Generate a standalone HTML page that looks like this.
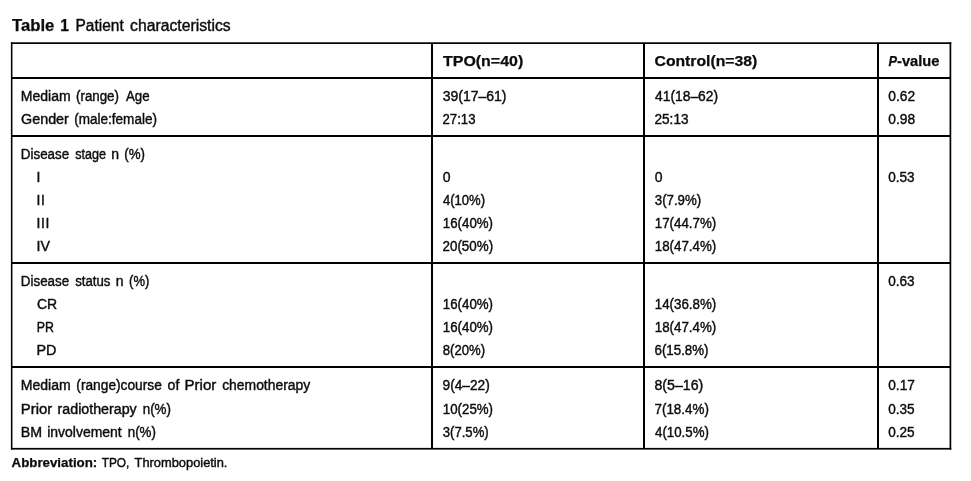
<!DOCTYPE html>
<html lang="en"><head><meta charset="utf-8"><title>Table 1 Patient characteristics</title>
<style>
html,body{margin:0;padding:0;background:#fff;}
body{width:971px;height:481px;position:relative;overflow:hidden;font-family:"Liberation Sans",sans-serif;color:#0c0c10;-webkit-text-stroke:0.4px #0c0c10;}
.t{position:absolute;left:0;white-space:nowrap;line-height:20px;transform-origin:0 50%;display:block;}
svg{position:absolute;left:0;top:0;}
</style></head><body>
<svg width="971" height="481" viewBox="0 0 971 481">
<g fill="#000">
<rect x="10.9" y="42.3" width="940.35" height="1.7"/>
<rect x="10.9" y="447.9" width="940.35" height="1.7"/>
<rect x="10.9" y="42.3" width="1.55" height="407.3"/>
<rect x="949.55" y="42.3" width="1.7" height="407.3"/>
<rect x="431" y="43" width="2" height="406"/>
<rect x="643" y="43" width="2" height="406"/>
<rect x="877" y="43" width="2" height="406"/>
<rect x="11" y="77" width="940" height="2"/>
<rect x="11" y="135" width="940" height="2"/>
<rect x="11" y="262" width="940" height="2"/>
<rect x="11" y="366" width="940" height="2"/>
</g></svg>

<div class="r">
<span class="t" id="t1_0" style="top:16px;font-size:15.6px;font-weight:bold;-webkit-text-stroke-width:0.25px;transform:translateX(12.00px) scaleX(1.0715);">Table</span>
<span class="t" id="t1_1" style="top:16px;font-size:15.6px;font-weight:bold;-webkit-text-stroke-width:0.25px;transform:translateX(60.35px) scaleX(1.0000);">1</span>
<span class="t" id="t2_0" style="top:16px;font-size:15.6px;transform:translateX(75.55px) scaleX(0.9917);">Patient</span>
<span class="t" id="t2_1" style="top:16px;font-size:15.6px;transform:translateX(130.05px) scaleX(1.0092);">characteristics</span>
</div>
<div class="r">
<span class="t" id="h2" style="top:51px;font-size:15px;font-weight:bold;-webkit-text-stroke-width:0.25px;transform:translateX(443.00px) scaleX(1.0635);">TPO(n=40)</span>
<span class="t" id="h3" style="top:51px;font-size:15px;font-weight:bold;-webkit-text-stroke-width:0.25px;transform:translateX(654.50px) scaleX(1.0502);">Control(n=38)</span>
<span class="t" id="h4a" style="top:51px;font-size:15px;font-weight:bold;-webkit-text-stroke-width:0.25px;font-style:italic;transform:translateX(888.50px) scaleX(0.8500);">P</span><span class="t" id="h4b" style="top:51px;font-size:15px;font-weight:bold;-webkit-text-stroke-width:0.25px;transform:translateX(897.00px) scaleX(0.9765);">-value</span>
</div>
<div class="r">
<span class="t" id="a1_0" style="top:86px;font-size:14px;transform:translateX(20.80px) scaleX(1.0022);">Mediam</span>
<span class="t" id="a1_1" style="top:86px;font-size:14px;transform:translateX(76.05px) scaleX(0.9498);">(range)</span>
<span class="t" id="a1_2" style="top:86px;font-size:14px;transform:translateX(125.90px) scaleX(0.9491);">Age</span>
<span class="t" id="a2" style="top:86px;font-size:14px;transform:translateX(442.75px) scaleX(0.9976);">39(17–61)</span>
<span class="t" id="a3" style="top:86px;font-size:14px;transform:translateX(655.00px) scaleX(0.9882);">41(18–62)</span>
<span class="t" id="a4" style="top:86px;font-size:14px;transform:translateX(888.25px) scaleX(0.9849);">0.62</span>
</div>
<div class="r">
<span class="t" id="b1_0" style="top:109px;font-size:14px;transform:translateX(21.05px) scaleX(1.0239);">Gender</span>
<span class="t" id="b1_1" style="top:109px;font-size:14px;transform:translateX(74.25px) scaleX(0.9662);">(male:female)</span>
<span class="t" id="b2" style="top:109px;font-size:14px;transform:translateX(442.50px) scaleX(0.9412);">27:13</span>
<span class="t" id="b3" style="top:109px;font-size:14px;transform:translateX(654.50px) scaleX(0.9706);">25:13</span>
<span class="t" id="b4" style="top:109px;font-size:14px;transform:translateX(888.25px) scaleX(0.9849);">0.98</span>
</div>
<div class="r">
<span class="t" id="c1_0" style="top:144px;font-size:14px;transform:translateX(20.80px) scaleX(0.9562);">Disease</span>
<span class="t" id="c1_1" style="top:144px;font-size:14px;transform:translateX(75.20px) scaleX(0.8985);">stage</span>
<span class="t" id="c1_2" style="top:144px;font-size:14px;transform:translateX(111.25px) scaleX(1.0000);">n</span>
<span class="t" id="c1_3" style="top:144px;font-size:14px;transform:translateX(124.20px) scaleX(0.9512);">(%)</span>
</div>
<div class="r">
<span class="t" id="d1" style="top:167px;font-size:14px;transform:translateX(36.55px) scaleX(1.0000);">I</span>
<span class="t" id="d2" style="top:167px;font-size:14px;transform:translateX(442.75px) scaleX(1.0000);">0</span>
<span class="t" id="d3" style="top:167px;font-size:14px;transform:translateX(654.75px) scaleX(1.0000);">0</span>
<span class="t" id="d4" style="top:167px;font-size:14px;transform:translateX(888.25px) scaleX(0.9678);">0.53</span>
</div>
<div class="r">
<span class="t" id="e1" style="top:190px;font-size:14px;letter-spacing:0.55px;transform:translateX(36.55px) scaleX(1.0000);">II</span>
<span class="t" id="e2" style="top:190px;font-size:14px;transform:translateX(443.00px) scaleX(0.9323);">4(10%)</span>
<span class="t" id="e3" style="top:190px;font-size:14px;transform:translateX(654.75px) scaleX(0.9477);">3(7.9%)</span>
</div>
<div class="r">
<span class="t" id="f1" style="top:213px;font-size:14px;letter-spacing:0.55px;transform:translateX(36.55px) scaleX(1.0000);">III</span>
<span class="t" id="f2" style="top:213px;font-size:14px;transform:translateX(442.80px) scaleX(0.9496);">16(40%)</span>
<span class="t" id="f3" style="top:213px;font-size:14px;transform:translateX(654.80px) scaleX(0.9508);">17(44.7%)</span>
</div>
<div class="r">
<span class="t" id="g1" style="top:236px;font-size:14px;transform:translateX(36.55px) scaleX(1.0164);">IV</span>
<span class="t" id="g2" style="top:236px;font-size:14px;transform:translateX(442.50px) scaleX(0.9565);">20(50%)</span>
<span class="t" id="g3" style="top:236px;font-size:14px;transform:translateX(654.80px) scaleX(0.9508);">18(47.4%)</span>
</div>
<div class="r">
<span class="t" id="i1_0" style="top:271px;font-size:14px;transform:translateX(20.80px) scaleX(0.9562);">Disease</span>
<span class="t" id="i1_1" style="top:271px;font-size:14px;transform:translateX(75.20px) scaleX(0.9429);">status</span>
<span class="t" id="i1_2" style="top:271px;font-size:14px;transform:translateX(115.75px) scaleX(1.0000);">n</span>
<span class="t" id="i1_3" style="top:271px;font-size:14px;transform:translateX(129.05px) scaleX(0.9286);">(%)</span>
<span class="t" id="i4" style="top:271px;font-size:14px;transform:translateX(888.25px) scaleX(0.9678);">0.63</span>
</div>
<div class="r">
<span class="t" id="j1" style="top:294px;font-size:14px;transform:translateX(37.00px) scaleX(1.0002);">CR</span>
<span class="t" id="j2" style="top:294px;font-size:14px;transform:translateX(442.80px) scaleX(0.9496);">16(40%)</span>
<span class="t" id="j3" style="top:294px;font-size:14px;transform:translateX(654.80px) scaleX(0.9508);">14(36.8%)</span>
</div>
<div class="r">
<span class="t" id="k1" style="top:317px;font-size:14px;transform:translateX(36.75px) scaleX(0.8814);">PR</span>
<span class="t" id="k2" style="top:317px;font-size:14px;transform:translateX(442.80px) scaleX(0.9496);">16(40%)</span>
<span class="t" id="k3" style="top:317px;font-size:14px;transform:translateX(654.80px) scaleX(0.9508);">18(47.4%)</span>
</div>
<div class="r">
<span class="t" id="l1" style="top:340px;font-size:14px;transform:translateX(36.50px) scaleX(1.0278);">PD</span>
<span class="t" id="l2" style="top:340px;font-size:14px;transform:translateX(442.75px) scaleX(0.9376);">8(20%)</span>
<span class="t" id="l3" style="top:340px;font-size:14px;transform:translateX(654.50px) scaleX(0.9505);">6(15.8%)</span>
</div>
<div class="r">
<span class="t" id="m1_0" style="top:375px;font-size:14px;transform:translateX(20.80px) scaleX(1.0031);">Mediam</span>
<span class="t" id="m1_1" style="top:375px;font-size:14px;transform:translateX(76.35px) scaleX(0.9803);">(range)course</span>
<span class="t" id="m1_2" style="top:375px;font-size:14px;transform:translateX(167.60px) scaleX(1.0000);">of</span>
<span class="t" id="m1_3" style="top:375px;font-size:14px;transform:translateX(184.50px) scaleX(1.0772);">Prior</span>
<span class="t" id="m1_4" style="top:375px;font-size:14px;transform:translateX(222.15px) scaleX(0.9927);">chemotherapy</span>
<span class="t" id="m2" style="top:375px;font-size:14px;transform:translateX(442.50px) scaleX(0.9808);">9(4–22)</span>
<span class="t" id="m3" style="top:375px;font-size:14px;transform:translateX(654.50px) scaleX(1.0106);">8(5–16)</span>
<span class="t" id="m4" style="top:375px;font-size:14px;transform:translateX(888.25px) scaleX(0.9772);">0.17</span>
</div>
<div class="r">
<span class="t" id="n1_0" style="top:399px;font-size:14px;transform:translateX(20.80px) scaleX(1.0615);">Prior</span>
<span class="t" id="n1_1" style="top:399px;font-size:14px;transform:translateX(57.55px) scaleX(1.0169);">radiotherapy</span>
<span class="t" id="n1_2" style="top:399px;font-size:14px;transform:translateX(142.70px) scaleX(0.9576);">n(%)</span>
<span class="t" id="n2" style="top:399px;font-size:14px;transform:translateX(442.80px) scaleX(0.9496);">10(25%)</span>
<span class="t" id="n3" style="top:399px;font-size:14px;transform:translateX(654.50px) scaleX(0.9568);">7(18.4%)</span>
<span class="t" id="n4" style="top:399px;font-size:14px;transform:translateX(888.25px) scaleX(0.9678);">0.35</span>
</div>
<div class="r">
<span class="t" id="o1_0" style="top:422px;font-size:14px;transform:translateX(20.80px) scaleX(1.0133);">BM</span>
<span class="t" id="o1_1" style="top:422px;font-size:14px;transform:translateX(47.20px) scaleX(0.9974);">involvement</span>
<span class="t" id="o1_2" style="top:422px;font-size:14px;transform:translateX(127.75px) scaleX(0.9536);">n(%)</span>
<span class="t" id="o2" style="top:422px;font-size:14px;transform:translateX(442.75px) scaleX(0.9372);">3(7.5%)</span>
<span class="t" id="o3" style="top:422px;font-size:14px;transform:translateX(655.00px) scaleX(0.9481);">4(10.5%)</span>
<span class="t" id="o4" style="top:422px;font-size:14px;transform:translateX(888.25px) scaleX(0.9678);">0.25</span>
</div>
<div class="r">
<span class="t" id="z1" style="top:453px;font-size:12px;font-weight:bold;-webkit-text-stroke-width:0.25px;transform:translateX(11.55px) scaleX(1.1082);">Abbreviation:</span>
<span class="t" id="z2_0" style="top:453px;font-size:12px;transform:translateX(101.70px) scaleX(0.9852);">TPO,</span>
<span class="t" id="z2_1" style="top:453px;font-size:12px;transform:translateX(134.55px) scaleX(1.0711);">Thrombopoietin.</span>
</div>
</body></html>
